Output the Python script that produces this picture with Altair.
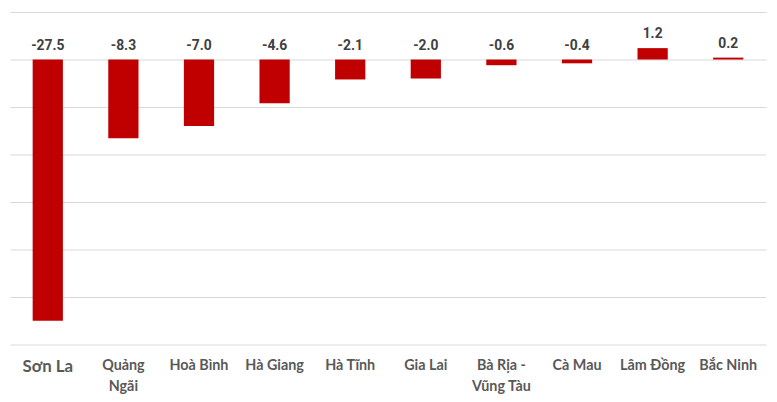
import altair as alt
import pandas as pd

provinces = ["Sơn La", "Quảng\nNgãi", "Hoà Bình", "Hà Giang", "Hà Tĩnh", "Gia Lai",
             "Bà Rịa -\nVũng Tàu", "Cà Mau", "Lâm Đồng", "Bắc Ninh"]
values = [-27.5, -8.3, -7.0, -4.6, -2.1, -2.0, -0.6, -0.4, 1.2, 0.2]

df = pd.DataFrame({"province": provinces, "value": values})
df["top"] = df["value"].clip(lower=0)
df["label"] = [f"{v:.1f}" for v in values]

x = alt.X("province:N", sort=provinces, title=None,
          scale=alt.Scale(paddingInner=0.6, paddingOuter=0.3),
          axis=alt.Axis(labelExpr="split(datum.label, '\\n')", labelAngle=0,
                        labelFont="Lato", labelFontWeight="bold",
                        labelFontSize={"condition": {"test": "datum.value == 'Sơn La'", "value": 17}, "value": 14.5},
                        labelColor="#595959", labelPadding=14, labelLineHeight=21,
                        domain=False, ticks=False, grid=False))

bars = alt.Chart(df).mark_bar(color="#C00000").encode(
    x=x,
    y=alt.Y("value:Q", scale=alt.Scale(domain=[-30, 5]), title=None,
            axis=alt.Axis(values=[-30, -25, -20, -15, -10, -5, 0, 5], labels=False,
                          ticks=False, domain=False, gridColor="#d9d9d9", gridWidth=1)),
)

labels = alt.Chart(df).mark_text(font="Roboto", fontWeight="bold", fontSize=14,
                                 color="#404040", baseline="bottom", dy=-7).encode(
    x=alt.X("province:N", sort=provinces),
    y=alt.Y("top:Q"),
    text=alt.Text("label:N"),
)

chart = (bars + labels).properties(
    width=764, height=336,
    padding={"left": 2, "top": 2, "right": 3, "bottom": 5},
).configure_view(stroke=None)

chart.save("out.html", embed_options={"renderer": "svg", "actions": False})
